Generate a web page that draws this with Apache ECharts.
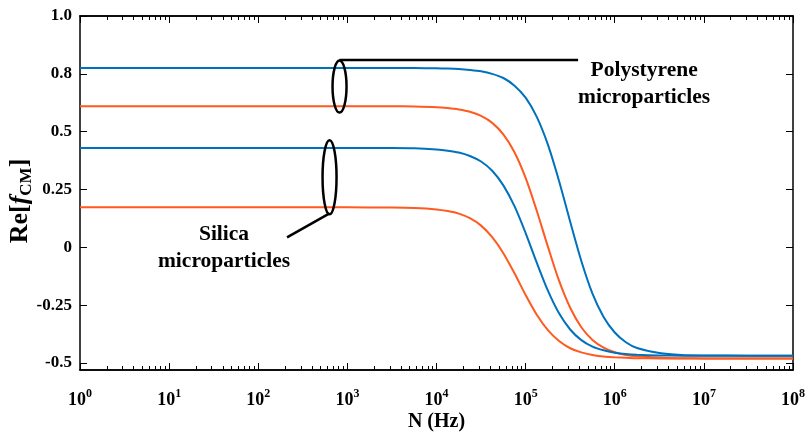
<!DOCTYPE html>
<html>
<head>
<meta charset="UTF-8">
<script src="https://cdn.jsdelivr.net/npm/echarts@6/dist/echarts.min.js"></script>
<style>
  body { margin: 0; background: #fff; }
  #chart { width: 806px; height: 433px; }
</style>
</head>
<body>
<div id="chart"></div>
<script>
// frequency points as decade exponents (N = 10^exp Hz)
const exps = [0, 1, 2, 3, 3.5, 3.75, 4, 4.125, 4.25, 4.375, 4.5, 4.625, 4.75, 4.875, 5, 5.125, 5.25, 5.375, 5.5, 5.625, 5.75, 5.875, 6, 6.125, 6.25, 6.5, 6.75, 7, 7.5, 8];

// Re[fCM]
const polyBlue = [0.775, 0.775, 0.775, 0.775, 0.775, 0.775, 0.774, 0.773, 0.771, 0.767, 0.761, 0.750, 0.732, 0.699, 0.647, 0.564, 0.444, 0.287, 0.111, -0.059, -0.200, -0.301, -0.368, -0.410, -0.435, -0.457, -0.465, -0.467, -0.468, -0.468];
const polyOrange = [0.61, 0.61, 0.61, 0.61, 0.61, 0.609, 0.606, 0.602, 0.596, 0.586, 0.568, 0.538, 0.488, 0.411, 0.300, 0.158, 0.003, -0.144, -0.261, -0.345, -0.400, -0.433, -0.453, -0.465, -0.471, -0.477, -0.479, -0.48, -0.48, -0.48];
const silicaBlue = [0.429, 0.429, 0.429, 0.429, 0.429, 0.428, 0.423, 0.418, 0.410, 0.395, 0.371, 0.331, 0.268, 0.178, 0.062, -0.066, -0.187, -0.285, -0.355, -0.401, -0.429, -0.445, -0.455, -0.461, -0.464, -0.467, -0.468, -0.468, -0.468, -0.468];
const silicaOrange = [0.173, 0.173, 0.173, 0.173, 0.172, 0.170, 0.164, 0.157, 0.146, 0.126, 0.094, 0.044, -0.025, -0.112, -0.206, -0.291, -0.358, -0.405, -0.436, -0.454, -0.465, -0.472, -0.475, -0.477, -0.479, -0.48, -0.48, -0.48, -0.48, -0.48];

// tick labels
const yTicks = [-0.5, -0.25, 0, 0.25, 0.5, 0.75, 1];
const yTickLabels = ['-0.5', '-0.25', '0', '0.25', '0.5', '0.8', '1.0'];
const xTickExps = [0, 1, 2, 3, 4, 5, 6, 7, 8];

const BLUE = '#0072BD';
const ORANGE = '#FF5A1F';
const FONT = '"Liberation Serif", "Times New Roman", serif';

const xMajor = xTickExps.map(e => Math.pow(10, e));
const xMinor = [];
for (let k = 0; k < 8; k++) {
  for (let m = 2; m <= 9; m++) xMinor.push(m * Math.pow(10, k));
}

function pts(vals) {
  return vals.map((v, i) => [Math.pow(10, exps[i]), v]);
}

function logAxis(pos, ticks, len, extra) {
  return Object.assign({
    type: 'log', logBase: 10, min: 1, max: 1e8, position: pos,
    axisLine: { show: true, onZero: false, lineStyle: { color: '#000', width: 1.5 } },
    axisTick: { show: true, inside: true, length: len, customValues: ticks, lineStyle: { color: '#000', width: 1 } },
    axisLabel: { show: false },
    splitLine: { show: false }
  }, extra || {});
}

const chart = echarts.init(document.getElementById('chart'));

function line(name, vals, color) {
  return {
    name: name, type: 'line', data: pts(vals), showSymbol: false, smooth: 0.3,
    lineStyle: { color: color, width: 2 }, itemStyle: { color: color }, z: 3
  };
}

chart.setOption({
  animation: false,
  grid: { left: 80, right: 13, top: 16, bottom: 63, outerBoundsMode: 'none', containLabel: false },
  xAxis: [
    logAxis('bottom', xMajor, 7, {
      name: 'N (Hz)', nameLocation: 'middle', nameGap: 42, nameMoveOverlap: false,
      nameTextStyle: { fontFamily: FONT, fontWeight: 'bold', fontSize: 20, color: '#000' },
      axisLabel: {
        show: true, customValues: xMajor, margin: 17,
        formatter: v => '{b|10}{s|' + Math.round(Math.log10(v)) + '}',
        rich: {
          b: { fontFamily: FONT, fontWeight: 'bold', fontSize: 18, color: '#000', verticalAlign: 'bottom', lineHeight: 22 },
          s: { fontFamily: FONT, fontWeight: 'bold', fontSize: 12, color: '#000', verticalAlign: 'bottom', lineHeight: 22, padding: [0, 0, 9, 0] }
        }
      }
    }),
    logAxis('bottom', xMinor, 4),
    logAxis('top', xMajor, 7),
    logAxis('top', xMinor, 4)
  ],
  yAxis: [
    {
      type: 'value', min: -0.53, max: 1, position: 'left',
      name: '{n|Re[}{i|f}{c|CM}{n|]}', nameLocation: 'middle', nameGap: 47, nameRotate: 90,
      nameMoveOverlap: false,
      nameTextStyle: {
        padding: [0, 16, 0, 0],
        rich: {
          n: { fontFamily: FONT, fontWeight: 'bold', fontSize: 26, color: '#000', verticalAlign: 'bottom', lineHeight: 30 },
          i: { fontFamily: FONT, fontWeight: 'bold', fontStyle: 'italic', fontSize: 26, color: '#000', verticalAlign: 'bottom', lineHeight: 30 },
          c: { fontFamily: FONT, fontWeight: 'bold', fontSize: 17, color: '#000', verticalAlign: 'bottom', lineHeight: 30, padding: [0, 0, -2, 0] }
        }
      },
      axisLine: { show: true, onZero: false, lineStyle: { color: '#000', width: 1.5 } },
      axisTick: { show: true, inside: true, length: 7, customValues: yTicks, lineStyle: { color: '#000' } },
      axisLabel: {
        show: true, customValues: yTicks, margin: 8,
        formatter: v => yTickLabels[yTicks.indexOf(v)] !== undefined ? yTickLabels[yTicks.indexOf(v)] : '',
        fontFamily: FONT, fontWeight: 'bold', fontSize: 17, color: '#000'
      },
      splitLine: { show: false }
    },
    {
      type: 'value', min: -0.53, max: 1, position: 'right',
      axisLine: { show: true, onZero: false, lineStyle: { color: '#000', width: 1.5 } },
      axisTick: { show: true, inside: true, length: 7, customValues: yTicks, lineStyle: { color: '#000' } },
      axisLabel: { show: false },
      splitLine: { show: false }
    }
  ],
  series: [
    line('Polystyrene 1', polyBlue, BLUE),
    line('Polystyrene 2', polyOrange, ORANGE),
    line('Silica 1', silicaBlue, BLUE),
    line('Silica 2', silicaOrange, ORANGE)
  ]
});

// annotations, anchored in data coordinates
function px(e, v) {
  return chart.convertToPixel({ gridIndex: 0 }, [Math.pow(10, e), v]);
}
const e1 = px(2.912, 0.695);
const l1a = px(2.912, 0.8095);
const l1b = px(5.589, 0.8095);
const t1 = px(6.33, 0.706);
const e2 = px(2.80, 0.303);
const l2a = px(2.80, 0.147);
const l2b = px(2.323, 0.043);
const t2 = px(1.616, -0.004);
const stroke = { stroke: '#000', lineWidth: 2.5, fill: null };
const txt = { fontFamily: FONT, fontWeight: 'bold', fontSize: 21.5, fill: '#000', align: 'center', verticalAlign: 'middle', lineHeight: 27 };

chart.setOption({
  graphic: [
    { type: 'ellipse', shape: { cx: e1[0], cy: e1[1], rx: 7, ry: 26 }, style: stroke, z: 10 },
    { type: 'line', shape: { x1: l1a[0], y1: l1a[1], x2: l1b[0], y2: l1b[1] }, style: stroke, z: 10 },
    { type: 'text', x: t1[0], y: t1[1], style: Object.assign({ text: 'Polystyrene\nmicroparticles' }, txt), z: 10 },
    { type: 'ellipse', shape: { cx: e2[0], cy: e2[1], rx: 7, ry: 37 }, style: stroke, z: 10 },
    { type: 'line', shape: { x1: l2a[0], y1: l2a[1], x2: l2b[0], y2: l2b[1] }, style: stroke, z: 10 },
    { type: 'text', x: t2[0], y: t2[1], style: Object.assign({ text: 'Silica\nmicroparticles' }, txt), z: 10 }
  ]
});
</script>
</body>
</html>
